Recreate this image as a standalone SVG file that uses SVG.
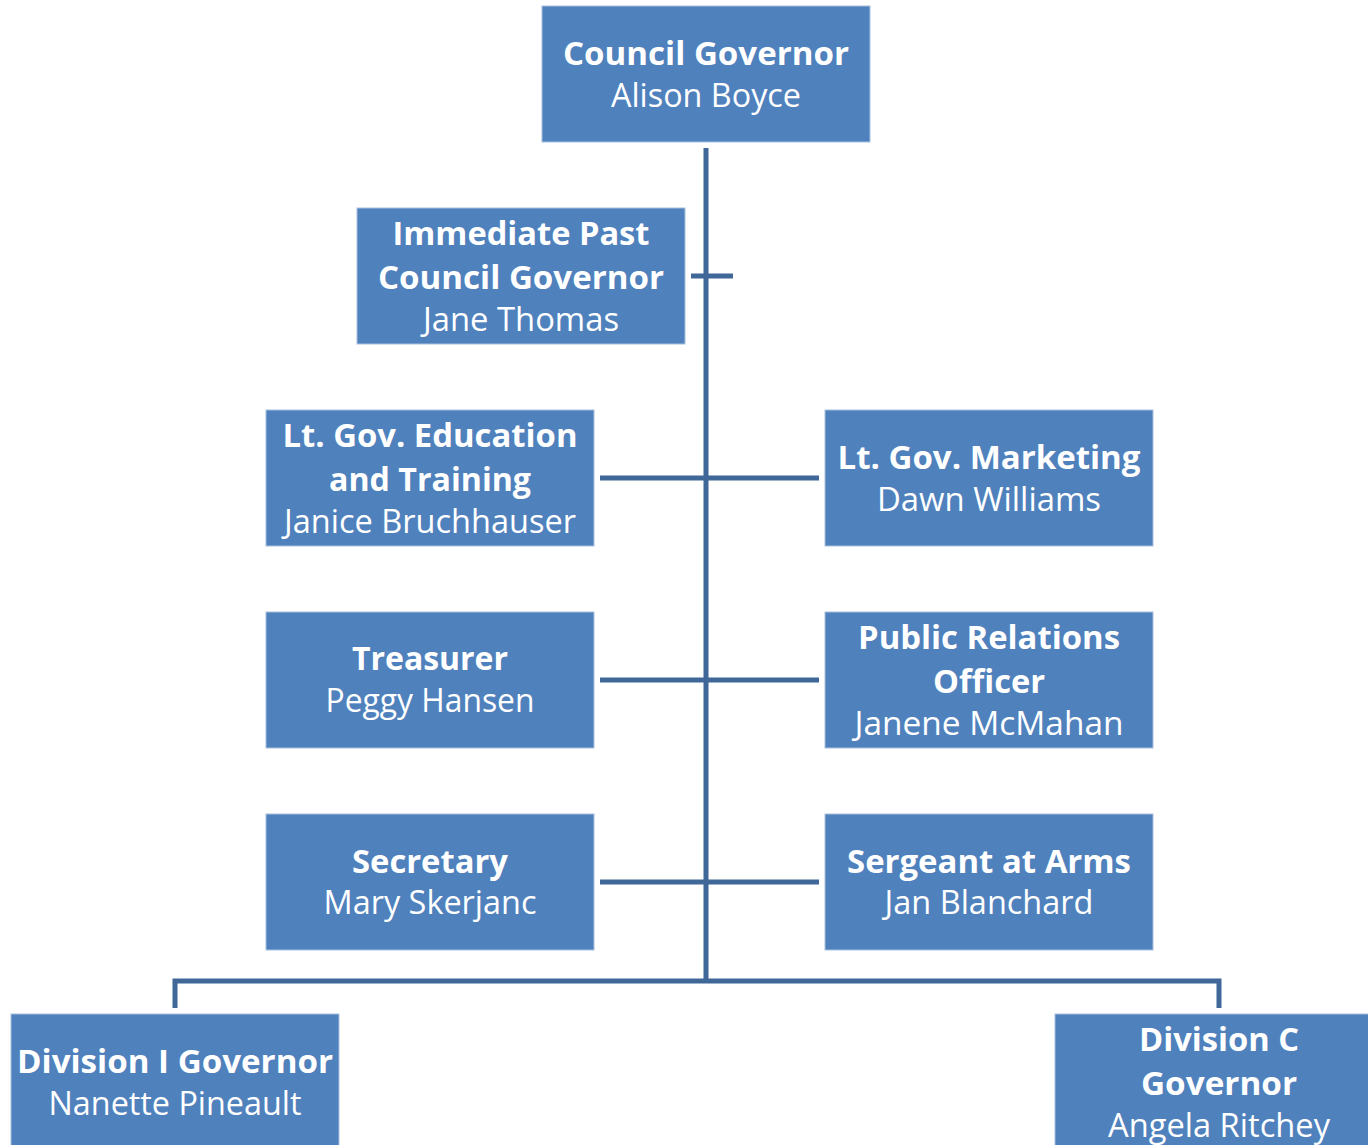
<svg xmlns="http://www.w3.org/2000/svg" width="1368" height="1145" viewBox="0 0 1368 1145">
<style>
.box{fill:#4F81BD;stroke:#A9C0DE;stroke-width:1}
.b{font-family:"Open Sans","Noto Sans",sans-serif;font-weight:bold;font-size:33px;fill:#FFFFFF;text-anchor:middle}
.r{font-family:"Open Sans","Noto Sans",sans-serif;font-weight:normal;font-size:33px;fill:#FFFFFF;text-anchor:middle}
.ln{stroke:#3F6797;stroke-width:5;fill:none}
</style>
<rect width="1368" height="1145" fill="#FFFFFF"/>
<g id="connectors">
<line class="ln" x1="706" y1="148" x2="706" y2="982"/>
<line class="ln" x1="691" y1="276" x2="733" y2="276"/>
<line class="ln" x1="600" y1="478" x2="819" y2="478"/>
<line class="ln" x1="600" y1="680" x2="819" y2="680"/>
<line class="ln" x1="600" y1="882" x2="819" y2="882"/>
<polyline class="ln" points="175,1008 175,981 1219,981 1219,1008"/>
</g>
<g id="council-governor">
<rect class="box" x="542" y="6" width="328" height="136"/>
<text class="b" x="706" y="65" textLength="286" lengthAdjust="spacingAndGlyphs">Council Governor</text>
<text class="r" x="706" y="107" textLength="190" lengthAdjust="spacingAndGlyphs">Alison Boyce</text>
</g>
<g id="immediate-past">
<rect class="box" x="357" y="208" width="328" height="136"/>
<text class="b" x="521" y="245" textLength="257" lengthAdjust="spacingAndGlyphs">Immediate Past</text>
<text class="b" x="521" y="289" textLength="286" lengthAdjust="spacingAndGlyphs">Council Governor</text>
<text class="r" x="521" y="331" textLength="196" lengthAdjust="spacingAndGlyphs">Jane Thomas</text>
</g>
<g id="lt-gov-education">
<rect class="box" x="266" y="410" width="328" height="136"/>
<text class="b" x="430" y="447" textLength="295" lengthAdjust="spacingAndGlyphs">Lt. Gov. Education</text>
<text class="b" x="430" y="491" textLength="202" lengthAdjust="spacingAndGlyphs">and Training</text>
<text class="r" x="430" y="533" textLength="292" lengthAdjust="spacingAndGlyphs">Janice Bruchhauser</text>
</g>
<g id="lt-gov-marketing">
<rect class="box" x="825" y="410" width="328" height="136"/>
<text class="b" x="989" y="469" textLength="303" lengthAdjust="spacingAndGlyphs">Lt. Gov. Marketing</text>
<text class="r" x="989" y="511" textLength="224" lengthAdjust="spacingAndGlyphs">Dawn Williams</text>
</g>
<g id="treasurer">
<rect class="box" x="266" y="612" width="328" height="136"/>
<text class="b" x="430" y="670" textLength="156" lengthAdjust="spacingAndGlyphs">Treasurer</text>
<text class="r" x="430" y="712" textLength="209" lengthAdjust="spacingAndGlyphs">Peggy Hansen</text>
</g>
<g id="public-relations">
<rect class="box" x="825" y="612" width="328" height="136"/>
<text class="b" x="989" y="649" textLength="262" lengthAdjust="spacingAndGlyphs">Public Relations</text>
<text class="b" x="989" y="693" textLength="112" lengthAdjust="spacingAndGlyphs">Officer</text>
<text class="r" x="989" y="735" textLength="269" lengthAdjust="spacingAndGlyphs">Janene McMahan</text>
</g>
<g id="secretary">
<rect class="box" x="266" y="814" width="328" height="136"/>
<text class="b" x="430" y="873" textLength="156" lengthAdjust="spacingAndGlyphs">Secretary</text>
<text class="r" x="430" y="914" textLength="213" lengthAdjust="spacingAndGlyphs">Mary Skerjanc</text>
</g>
<g id="sergeant-at-arms">
<rect class="box" x="825" y="814" width="328" height="136"/>
<text class="b" x="989" y="873" textLength="284" lengthAdjust="spacingAndGlyphs">Sergeant at Arms</text>
<text class="r" x="989" y="914" textLength="209" lengthAdjust="spacingAndGlyphs">Jan Blanchard</text>
</g>
<g id="division-i">
<rect class="box" x="11" y="1014" width="328" height="140"/>
<text class="b" x="175" y="1073" textLength="316" lengthAdjust="spacingAndGlyphs">Division I Governor</text>
<text class="r" x="175" y="1115" textLength="253" lengthAdjust="spacingAndGlyphs">Nanette Pineault</text>
</g>
<g id="division-c">
<rect class="box" x="1055" y="1014" width="328" height="140"/>
<text class="b" x="1219" y="1051" textLength="160" lengthAdjust="spacingAndGlyphs">Division C</text>
<text class="b" x="1219" y="1095" textLength="156" lengthAdjust="spacingAndGlyphs">Governor</text>
<text class="r" x="1219" y="1137" textLength="222" lengthAdjust="spacingAndGlyphs">Angela Ritchey</text>
</g>
</svg>
